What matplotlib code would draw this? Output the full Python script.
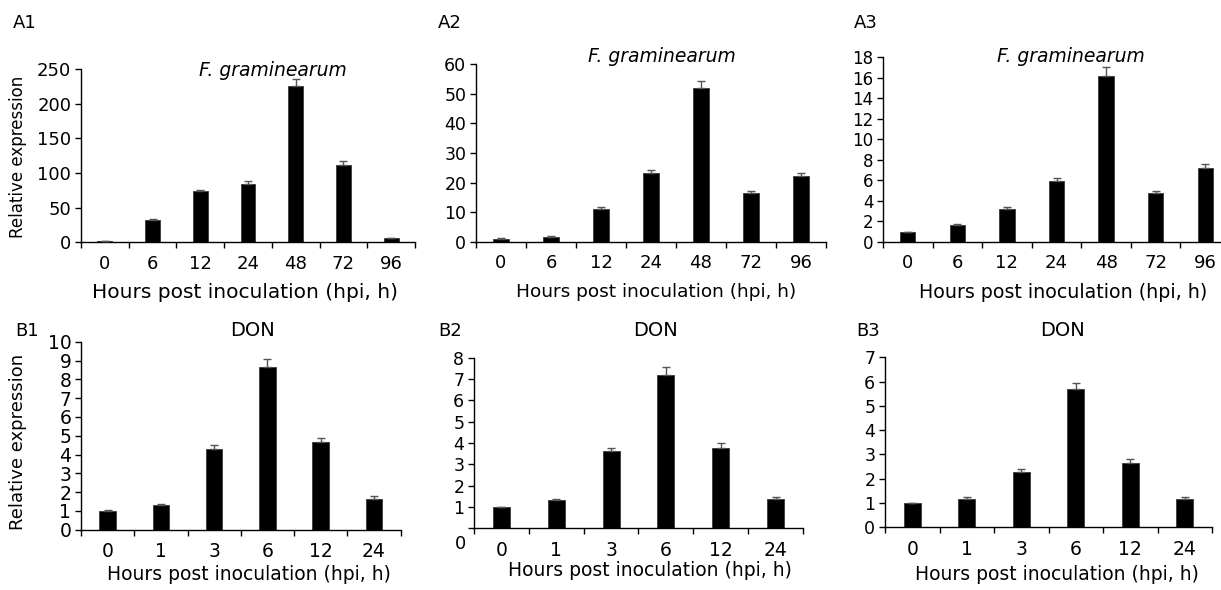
import numpy as np
import matplotlib
matplotlib.use("Agg")
import matplotlib.pyplot as plt

plt.rcParams['font.family'] = ['DejaVu Sans']

W, H = 1221, 590

# --- data ---
a_hours = ['0', '6', '12', '24', '48', '72', '96']
b_hours = ['0', '1', '3', '6', '12', '24']

a1_vals = [1.2, 32.7, 73.5, 84.0, 225.0, 111.5, 5.5]
a1_err = [0.3, 1.2, 2.3, 5.0, 10.5, 5.5, 0.6]
a2_vals = [0.9, 1.7, 11.2, 23.2, 51.9, 16.6, 22.2]
a2_err = [0.2, 0.2, 0.7, 1.2, 2.6, 0.6, 0.9]
a3_vals = [0.97, 1.7, 3.25, 5.95, 16.2, 4.77, 7.2]
a3_err = [0.05, 0.04, 0.2, 0.25, 0.85, 0.17, 0.36]

b1_vals = [1.0, 1.32, 4.27, 8.65, 4.65, 1.65]
b1_err = [0.03, 0.04, 0.22, 0.42, 0.21, 0.12]
b2_vals = [0.98, 1.33, 3.61, 7.2, 3.78, 1.37]
b2_err = [0.03, 0.03, 0.17, 0.36, 0.2, 0.08]
b3_vals = [0.99, 1.18, 2.29, 5.68, 2.63, 1.18]
b3_err = [0.03, 0.08, 0.12, 0.25, 0.17, 0.08]

a_yticks = [np.arange(0, 251, 50), np.arange(0, 61, 10), np.arange(0, 19, 2)]
b_yticks = [np.arange(0, 11, 1), np.arange(0, 9, 1), np.arange(0, 8, 1)]


def px(x, y):
    return x / W, 1 - y / H


def make_axes(fig, left, right, y0, ytop):
    return fig.add_axes([left / W, 1 - y0 / H, (right - left) / W, (y0 - ytop) / H])


def draw_panel(ax, cats, vals, err, yticks, ysize=13, xsize=13):
    n = len(cats)
    x = np.arange(n)
    ax.bar(x, vals, width=0.31, color='black', edgecolor='#444444', linewidth=0.7, zorder=2)
    ax.errorbar(x, vals, yerr=[np.zeros(n), err], fmt='none', ecolor='#555555',
                elinewidth=1, capsize=3, capthick=1, zorder=3)
    ax.set_xlim(-0.5, n - 0.5)
    ax.set_ylim(yticks[0], yticks[-1])
    ax.set_yticks(yticks)
    ax.set_yticklabels([str(v) for v in yticks], fontsize=ysize)
    ax.set_xticks(x)
    ax.set_xticklabels(cats, fontsize=xsize)
    ax.set_xticks(np.arange(n + 1) - 0.5, minor=True)
    ax.tick_params(axis='x', which='major', length=0, pad=9)
    ax.tick_params(axis='x', which='minor', length=4, width=1, direction='out')
    ax.tick_params(axis='y', length=4, width=1, direction='out', pad=3)
    for s in ['top', 'right']:
        ax.spines[s].set_visible(False)
    for s in ['left', 'bottom']:
        ax.spines[s].set_linewidth(1)
        ax.spines[s].set_color('black')


fig = plt.figure(figsize=(W / 100, H / 100), dpi=100)

# top row: F. graminearum
axA1 = make_axes(fig, 81, 415, 242.3, 69)
axA2 = make_axes(fig, 476, 826, 241.7, 64.3)
axA3 = make_axes(fig, 883, 1230, 242, 57.3)
draw_panel(axA1, a_hours, a1_vals, a1_err, a_yticks[0], ysize=13)
draw_panel(axA2, a_hours, a2_vals, a2_err, a_yticks[1], ysize=12.5)
draw_panel(axA3, a_hours, a3_vals, a3_err, a_yticks[2], ysize=12)

# bottom row: DON
axB1 = make_axes(fig, 81, 400.5, 529.7, 341.7)
axB2 = make_axes(fig, 474, 803, 528.3, 357.7)
axB3 = make_axes(fig, 885, 1212, 527.3, 357.3)
draw_panel(axB1, b_hours, b1_vals, b1_err, b_yticks[0], ysize=13.5, xsize=13.5)
draw_panel(axB2, b_hours, b2_vals, b2_err, b_yticks[1], ysize=12.5, xsize=13.5)
draw_panel(axB3, b_hours, b3_vals, b3_err, b_yticks[2], ysize=12.5, xsize=13.5)

# B2 has its "0" label sitting below the axis
labs = [str(v) for v in b_yticks[1]]
labs[0] = ''
axB2.set_yticklabels(labs, fontsize=12.5)
axB2.annotate('0', xy=(0, 0), xycoords=('axes fraction', 'data'), xytext=(-6, -11),
              textcoords='offset points', ha='right', va='center', fontsize=13)

# panel letters
for lab, (x, y) in [('A1', (25, 23)), ('A2', (450, 23)), ('A3', (866, 23)),
                    ('B1', (27, 331)), ('B2', (450, 331)), ('B3', (868, 331))]:
    fig.text(*px(x, y), lab, fontsize=13, ha='center', va='center')

# titles
for (x, y) in [(273, 70), (662, 56), (1071, 57)]:
    fig.text(*px(x, y), 'F. graminearum', fontsize=13.5, style='italic', ha='center', va='center')
for (x, y) in [(253, 331), (655, 331), (1063, 331)]:
    fig.text(*px(x, y), 'DON', fontsize=14, ha='center', va='center')

# axis labels
fig.text(*px(18, 157), 'Relative expression', fontsize=12, rotation=90, ha='center', va='center')
fig.text(*px(18, 442), 'Relative expression', fontsize=13, rotation=90, ha='center', va='center')
for (x, y), fs in [((245, 292), 14.5), ((656, 292), 13.3), ((1063, 292), 13.7),
                   ((249, 575), 13.5), ((650, 571), 13.5), ((1057, 575), 13.5)]:
    fig.text(*px(x, y), 'Hours post inoculation (hpi, h)', fontsize=fs, ha='center', va='center')

fig.savefig('out.png', dpi=100)
